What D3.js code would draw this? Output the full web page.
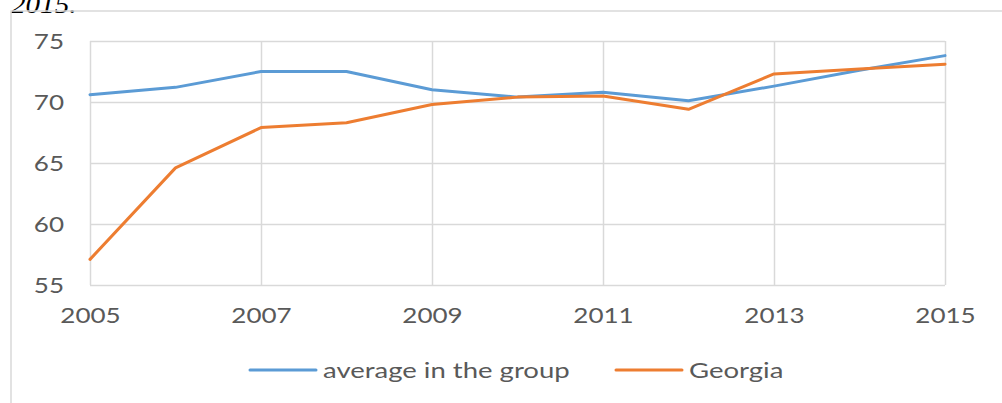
<!DOCTYPE html>
<html>
<head>
<meta charset="utf-8">
<script src="https://cdn.jsdelivr.net/npm/d3@7"></script>
<style>
  body { margin: 0; background: #fff; overflow: hidden; }
  svg { display: block; }
  .lbl { font-family: Lato, "Open Sans", sans-serif; font-size: 21px; fill: #595959; }
</style>
</head>
<body>
<svg id="chart" width="1002" height="403"></svg>
<script>
  // data
  var years = [2005, 2006, 2007, 2008, 2009, 2010, 2011, 2012, 2013, 2014, 2015];
  var average = [70.6, 71.2, 72.5, 72.5, 71.0, 70.4, 70.8, 70.1, 71.3, 72.6, 73.8];
  var georgia = [57.1, 64.6, 67.9, 68.3, 69.8, 70.4, 70.5, 69.4, 72.3, 72.7, 73.1];
  var xTicks = [2005, 2007, 2009, 2011, 2013, 2015];
  var yTicks = [55, 60, 65, 70, 75];
  var seriesNames = ['average in the group', 'Georgia'];
  var colors = ['#5B9BD5', '#ED7D31'];

(function () {
  var svg = d3.select('#chart');
  var tickStretch = 1.24;   // the picture is a bit wide
  var legendStretch = 1.31;
  var gridColor = '#D9D9D9';

  var plotLeft = 90, plotRight = 945, plotTop = 41, plotBottom = 285;

  var xScale = d3.scaleLinear().domain([2005, 2015]).range([plotLeft, plotRight]);
  var yScale = d3.scaleLinear().domain([55, 75]).range([plotBottom, plotTop]);

  // caption cut off at the top of the page
  svg.append('text')
    .attr('transform', 'translate(11,13) scale(1.12,1)')
    .style('font-family', '"Liberation Serif", "Times New Roman", serif')
    .style('font-style', 'italic')
    .style('font-size', '26px')
    .style('fill', '#000')
    .text('2015.');

  // chart frame
  svg.append('rect')
    .attr('x', 11).attr('y', 11)
    .attr('width', 1200).attr('height', 600)
    .attr('fill', 'none')
    .attr('stroke', gridColor)
    .attr('stroke-width', 1.5);

  // y axis + horizontal grid
  var yAxis = svg.append('g')
    .attr('transform', 'translate(' + plotLeft + ',0)')
    .call(d3.axisLeft(yScale).tickValues(yTicks).tickSize(-(plotRight - plotLeft)));
  yAxis.select('.domain').remove();
  yAxis.selectAll('line').attr('stroke', gridColor).attr('stroke-width', 1.5);
  yAxis.selectAll('text')
    .attr('class', 'lbl')
    .attr('font-size', null).attr('font-family', null)
    .attr('x', -26 / tickStretch)
    .attr('dy', '0.36em')
    .attr('transform', 'scale(' + tickStretch + ',1)');

  // x axis + vertical grid
  var xAxis = svg.append('g')
    .attr('transform', 'translate(0,' + plotBottom + ')')
    .call(d3.axisBottom(xScale).tickValues(xTicks).tickFormat(d3.format('d')).tickSize(-(plotBottom - plotTop)));
  xAxis.select('.domain').remove();
  xAxis.selectAll('line').attr('stroke', gridColor).attr('stroke-width', 1.5);
  xAxis.selectAll('text')
    .attr('class', 'lbl')
    .attr('font-size', null).attr('font-family', null)
    .attr('y', 30)
    .attr('dy', '0.36em')
    .attr('transform', 'scale(' + tickStretch + ',1)');

  // series lines
  var lineFun = d3.line()
    .x(function (d, i) { return xScale(years[i]); })
    .y(function (d) { return yScale(d); });

  [average, georgia].forEach(function (s, i) {
    svg.append('path')
      .datum(s)
      .attr('d', lineFun)
      .attr('fill', 'none')
      .attr('stroke', colors[i])
      .attr('stroke-width', 3)
      .attr('stroke-linejoin', 'round')
      .attr('stroke-linecap', 'round');
  });

  // legend
  var legendY = 370;
  var legendX = [250, 616];
  seriesNames.forEach(function (name, i) {
    var g = svg.append('g').attr('transform', 'translate(' + legendX[i] + ',' + legendY + ')');
    g.append('line')
      .attr('x1', 0).attr('x2', 66)
      .attr('stroke', colors[i])
      .attr('stroke-width', 3)
      .attr('stroke-linecap', 'round');
    g.append('text')
      .attr('class', 'lbl')
      .attr('x', 73 / legendStretch)
      .attr('dy', '0.36em')
      .attr('transform', 'scale(' + legendStretch + ',1)')
      .text(name);
  });
})();
</script>
</body>
</html>
